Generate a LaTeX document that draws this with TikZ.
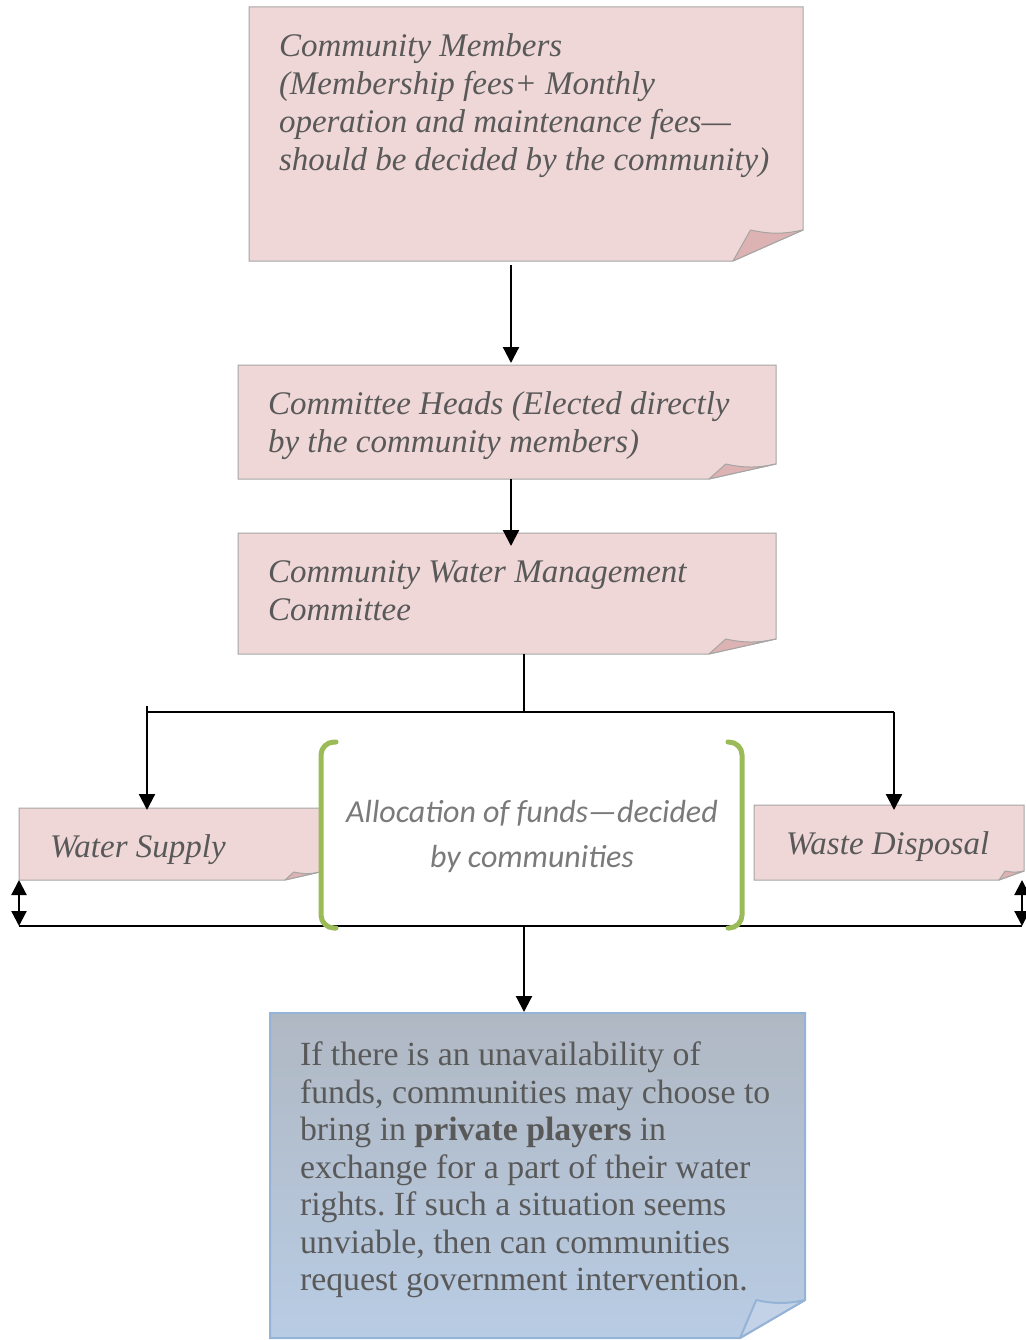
\documentclass[tikz,border=0pt]{standalone}
\usepackage{fontspec}
\setmainfont{Liberation Serif}
\newfontfamily\carl{Carlito}
\usetikzlibrary{arrows.meta,calc}
\frenchspacing
\definecolor{pinkfill}{HTML}{F0D7D7}
\definecolor{pinkfold}{HTML}{DDB2B2}
\definecolor{boxline}{HTML}{A5A5A5}
\definecolor{txt}{HTML}{595959}
\definecolor{alloctxt}{HTML}{7A7A7A}
\definecolor{brgreen}{HTML}{9BBB59}
\definecolor{bluetop}{HTML}{B0B8C3}
\definecolor{bluebot}{HTML}{B8CCE4}
\definecolor{blueline}{HTML}{95B3D7}
\definecolor{bluefold}{HTML}{C3D2E6}
\tikzset{
  frame/.style={rectangle, inner sep=0pt, outer sep=0pt, draw=none},
  boxtext/.style={inner sep=0pt, outer sep=0pt, anchor=north west, align=left, text=txt,
    font=\fontsize{33}{38}\selectfont\itshape},
  arr/.style={line width=2.2pt, -{Triangle[length=16pt,width=16pt]}},
  dbl/.style={line width=2.2pt, {Triangle[length=15pt,width=15pt]}-{Triangle[length=15pt,width=15pt]}},
  conn/.style={line width=2.2pt},
  bracket/.style={draw=brgreen, line width=5pt, rounded corners=13pt, line cap=round},
}
\newcommand\foldbox[7]{% node, main style, fold fill, line colour, fx, fy, line width
  \draw[draw=#4, #2, line width=#7] (#1.north west) -- (#1.north east) -- ([yshift=#6pt]#1.south east)
     -- ([xshift=-#5pt]#1.south east) -- (#1.south west) -- cycle;
  \draw[draw=#4, fill=#3, line width=#7, line join=round] ([xshift=-#5pt]#1.south east)
     -- ([xshift={-0.75*#5pt}, yshift={#6pt}]#1.south east) to[bend right=12] ([yshift=#6pt]#1.south east) -- cycle;
}
\begin{document}
\begin{tikzpicture}[x=1pt,y=-1pt]
\useasboundingbox (0,0) rectangle (1025,1340);
% frames
\node[frame, minimum width=554pt, minimum height=254pt] (b1) at (526,134) {};
\node[frame, minimum width=538pt, minimum height=114pt] (b2) at (507,422) {};
\node[frame, minimum width=538pt, minimum height=121pt] (b3) at (507,593.5) {};
\node[frame, minimum width=301pt, minimum height=72pt] (ws) at (169.5,844) {};
\node[frame, minimum width=270pt, minimum height=75pt] (wd) at (889,842.5) {};
\node[frame, minimum width=535pt, minimum height=325pt] (bb) at (537.5,1175.5) {};
% connector points
\coordinate (c1) at (511,0);
\coordinate (jt) at (524,712);
\coordinate (jl) at (147,712);
\coordinate (jr) at (894,712);
\coordinate (bl) at (19,926);
\coordinate (br) at (1022,926);
\coordinate (bm) at (524,926);
% boxes
\foldbox{b1}{fill=pinkfill}{pinkfold}{boxline}{70}{31}{1pt}
\foldbox{b2}{fill=pinkfill}{pinkfold}{boxline}{67}{15}{1pt}
\foldbox{b3}{fill=pinkfill}{pinkfold}{boxline}{67}{15}{1pt}
\foldbox{ws}{fill=pinkfill}{pinkfold}{boxline}{35}{8}{1pt}
\foldbox{wd}{fill=pinkfill}{pinkfold}{boxline}{25}{9}{1pt}
\foldbox{bb}{top color=bluetop, bottom color=bluebot}{bluefold}{blueline}{65}{38}{2pt}
% texts
\node[boxtext] (t1) at (279,34) {Community Members\\(Membership fees+ Monthly\\operation and maintenance fees—\\should be decided by the community)};
\node[boxtext] (t2) at (268,392) {Committee Heads (Elected directly\\by the community members)};
\node[boxtext] (t3) at (268,561) {Community Water Management\\Committee};
\node[boxtext] (t4) at (50,835) {Water Supply};
\node[boxtext] (t5) at (786,832) {Waste Disposal};
\node[inner sep=0pt, anchor=north, align=center, text=alloctxt, font=\carl\fontsize{32}{45}\selectfont\itshape] (t6) at (532,800) {Allocation of funds—decided\\by communities};
\node[boxtext, font=\fontsize{33.8}{37.5}\selectfont] (t7) at (300,1042) {If there is an unavailability of\\funds, communities may choose to\\bring in \textbf{private players} in\\exchange for a part of their water\\rights. If such a situation seems\\unviable, then can communities\\request government intervention.};
% connectors
\draw[arr] ([yshift=-4pt]b1.south -| c1) -- ([yshift=2pt]b2.north -| c1);
\draw[arr] (b2.south -| c1) -- ([yshift=-13pt]b3.north -| c1);
\draw[conn] (b3.south -| jt) -- (jt);
\draw[conn] (jl) -- (jr);
\draw[arr] ([yshift=6pt]jl) -- ([yshift=-2pt]ws.north -| jl);
\draw[arr] (jr) -- ([yshift=-5pt]wd.north -| jr);
\draw[dbl] (ws.south west) -- (bl);
\draw[conn] (bl) -- (br);
\draw[dbl] (wd.south east -| br) -- (br);
\draw[arr] (bm) -- ([yshift=1pt]bb.north -| bm);
% brackets
\draw[bracket] (336,742) -- (321,742) -- (321,928) -- (336,928);
\draw[bracket] (728,742) -- (742,742) -- (742,928) -- (728,928);
\end{tikzpicture}
\end{document}
